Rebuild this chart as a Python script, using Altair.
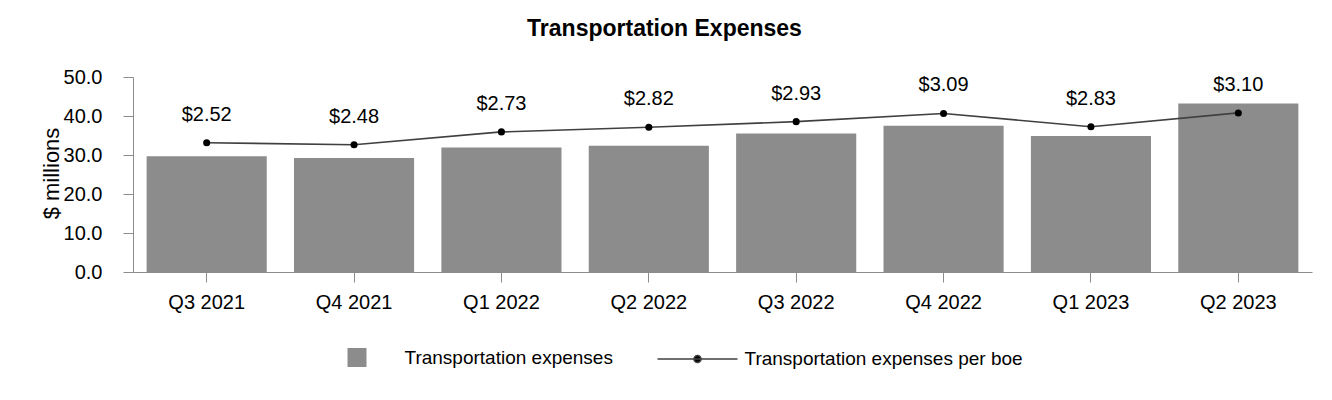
import altair as alt
import pandas as pd

quarters = ["Q3 2021", "Q4 2021", "Q1 2022", "Q2 2022", "Q3 2022", "Q4 2022", "Q1 2023", "Q2 2023"]
expenses = [29.7, 29.2, 31.9, 32.4, 35.5, 37.5, 34.9, 43.2]
per_boe = [2.52, 2.48, 2.73, 2.82, 2.93, 3.09, 2.83, 3.10]
per_boe_labels = ["$2.52", "$2.48", "$2.73", "$2.82", "$2.93", "$3.09", "$2.83", "$3.10"]
y_ticks = [0, 10, 20, 30, 40, 50]

BAR_NAME = "Transportation expenses"
LINE_NAME = "Transportation expenses per boe"
FONT = "Liberation Sans"

df = pd.DataFrame({
    "quarter": quarters,
    "expenses": expenses,
    "per_boe": per_boe,
    "label": per_boe_labels,
    "bar_series": [BAR_NAME] * len(quarters),
    "line_series": [LINE_NAME] * len(quarters),
})

x_enc = alt.X(
    "quarter:N",
    sort=quarters,
    scale=alt.Scale(paddingInner=0.185, paddingOuter=0.0925),
    axis=alt.Axis(title=None, labelAngle=0, labelFontSize=20, labelPadding=10,
                  tickSize=10, domainColor="#8c8c8c", tickColor="#8c8c8c"),
)

bars = alt.Chart(df).mark_bar().encode(
    x=x_enc,
    y=alt.Y(
        "expenses:Q",
        scale=alt.Scale(domain=[0, 50], nice=False),
        axis=alt.Axis(values=y_ticks, format=".1f", title="$ millions", grid=False,
                      tickSize=10, labelPadding=21, labelFontSize=20,
                      titleFontSize=22, titleFontWeight="normal",
                      titleAngle=-90, titleX=-75, titleY=96,
                      titleAlign="center", titleBaseline="alphabetic",
                      domainColor="#8c8c8c", tickColor="#8c8c8c"),
    ),
    color=alt.Color(
        "bar_series:N",
        scale=alt.Scale(domain=[BAR_NAME], range=["#8c8c8c"]),
        legend=alt.Legend(title=None, orient="none", legendX=214.5, legendY=271,
                          symbolType="square", symbolSize=361, symbolStrokeWidth=0,
                          labelOffset=38, labelFontSize=19, labelFont=FONT, padding=0,
                          labelLimit=0, labelColor="#000000"),
    ),
)

y_sec = alt.Y("per_boe:Q", scale=alt.Scale(domain=[0, 3.8], nice=False), axis=None)

line = alt.Chart(df).mark_line(strokeWidth=1.6).encode(
    x=x_enc,
    y=y_sec,
    stroke=alt.Stroke(
        "line_series:N",
        scale=alt.Scale(domain=[LINE_NAME], range=["#404040"]),
        legend=alt.Legend(title=None, orient="none", legendX=553.5, legendY=271,
                          symbolType="M-4,0L4,0M0.35,0A0.35,0.35,0,1,1,-0.35,0A0.35,0.35,0,1,1,0.35,0Z",
                          symbolSize=400, symbolStrokeWidth=1.6, symbolFillColor="#000000",
                          labelOffset=36, labelFontSize=19, labelFont=FONT, padding=0,
                          labelLimit=0, labelColor="#000000"),
    ),
)

points = alt.Chart(df).mark_point(filled=True, color="#000000", size=50, opacity=1).encode(
    x=x_enc, y=y_sec
)

labels = alt.Chart(df).mark_text(dy=-22, baseline="alphabetic", fontSize=20, font=FONT,
                                 color="#000000").encode(
    x=x_enc, y=y_sec, text="label:N"
)

secondary = alt.layer(line, points, labels)

chart = alt.layer(bars, secondary).resolve_scale(y="independent").properties(
    width=1179,
    height=195,
    autosize=alt.AutoSizeParams(type="none"),
    padding={"left": 125, "top": 69, "right": 12, "bottom": 120},
    title=alt.Title("Transportation Expenses", fontSize=23, fontWeight="bold", font=FONT,
                    anchor="middle", dx=-58, offset=8, baseline="alphabetic", color="#000000"),
).configure_view(stroke=None).configure_axis(
    labelFont=FONT, titleFont=FONT, labelColor="#000000", titleColor="#000000"
)

chart.save("out.html", embed_options={"renderer": "svg", "actions": False})
